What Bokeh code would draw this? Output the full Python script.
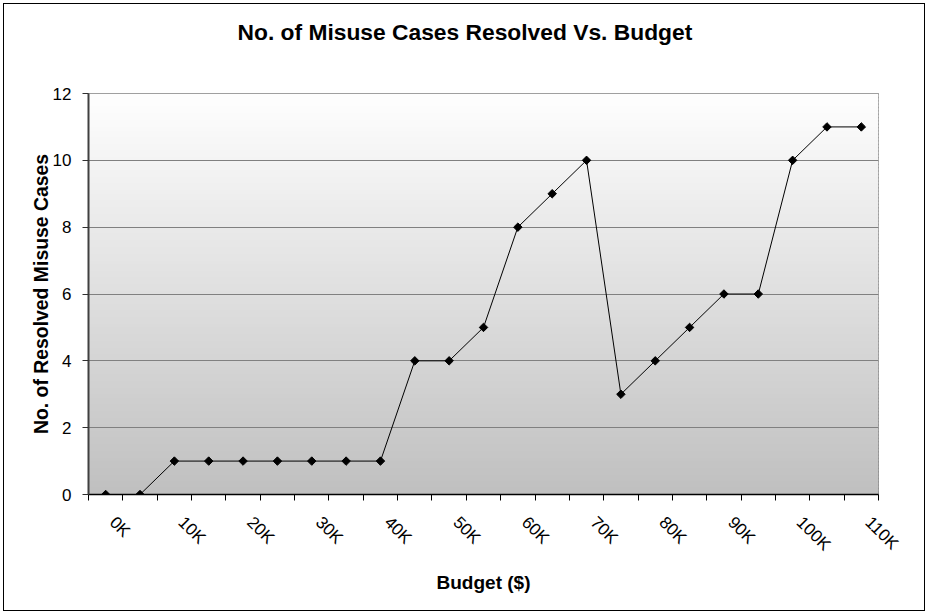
import numpy as np
from bokeh.plotting import figure
from bokeh.models import FixedTicker, Range1d, Title
from bokeh.embed import file_html
from bokeh.resources import INLINE

# ---- data ----
budget_k = [0, 5, 10, 15, 20, 25, 30, 35, 40, 45, 50, 55, 60, 65, 70, 75, 80, 85, 90, 95, 100, 105, 110]
resolved = [0, 0, 1, 1, 1, 1, 1, 1, 1, 4, 4, 5, 8, 9, 10, 3, 4, 5, 6, 6, 10, 11, 11]
x_tick_values = [0, 10, 20, 30, 40, 50, 60, 70, 80, 90, 100, 110]
x_tick_labels = ["0K", "10K", "20K", "30K", "40K", "50K", "60K", "70K", "80K", "90K", "100K", "110K"]
y_ticks = [0, 2, 4, 6, 8, 10, 12]

FONT = "Liberation Sans"
step = budget_k[1] - budget_k[0]
x0 = budget_k[0] - step / 2
x1 = budget_k[-1] + step / 2
y0, y1 = y_ticks[0], y_ticks[-1]

p = figure(frame_width=790, frame_height=401,
           x_range=Range1d(x0, x1), y_range=Range1d(y0, y1),
           output_backend="svg", toolbar_location=None,
           min_border_left=84, min_border_right=46,
           min_border_top=89, min_border_bottom=116,
           background_fill_color="white", border_fill_color="white")
p.styles = {"border": "1px solid black", "margin": "3px 0 0 3px"}
p.title.text = ""

# spacer panel between the frame and the title, then the title itself (outermost)
p.add_layout(Title(text=" ", text_font_size="1px", standoff=46), "above")
p.add_layout(Title(text="No. of Misuse Cases Resolved Vs. Budget", align="left",
                   offset=149, standoff=0, text_font=FONT, text_font_size="22.8px",
                   text_font_style="bold", text_color="black"), "above")

# gradient background (white -> silver), built from the y range
n = 120
edges = np.linspace(y0, y1, n + 1)
frac = (edges[:-1] + edges[1:]) / 2 / (y1 - y0)
shades = (192 + frac * 63).astype(int)
colors = ["#%02x%02x%02x" % (s, s, s) for s in shades]
pad = (y1 - y0) / n * 0.6
p.quad(left=x0, right=x1, bottom=edges[:-1], top=np.minimum(edges[1:] + pad, y1),
       fill_color=colors, line_color=None, level="image")

p.outline_line_color = "#808080"

# grid
p.xgrid.visible = False
p.ygrid.ticker = FixedTicker(ticks=y_ticks)
p.ygrid.grid_line_color = "#808080"
p.ygrid.grid_line_width = 1

# x axis: tick marks at category boundaries, labels just right of category centre
boundaries = [b - step / 2 for b in budget_k] + [budget_k[-1] + step / 2]
shift = step * 0.2
label_pos = [v + shift for v in x_tick_values]
xa = p.xaxis[0]
xa.ticker = FixedTicker(ticks=label_pos, minor_ticks=boundaries)
xa.major_label_overrides = {v: t for v, t in zip(label_pos, x_tick_labels)}
xa.major_tick_out = 0
xa.major_tick_in = 0
xa.minor_tick_out = 6
xa.minor_tick_in = 0
xa.minor_tick_line_color = "black"
xa.axis_line_color = "black"
xa.axis_line_width = 1.5
xa.major_label_orientation = -np.pi / 4
xa.major_label_standoff = 19
xa.major_label_text_font = FONT
xa.major_label_text_font_size = "17px"
xa.major_label_text_color = "black"
xa.axis_label = "Budget ($)"
xa.axis_label_text_font = FONT
xa.axis_label_text_font_size = "19px"
xa.axis_label_text_font_style = "bold"
xa.axis_label_text_color = "black"
xa.axis_label_standoff = 8

# y axis
ya = p.yaxis[0]
ya.ticker = FixedTicker(ticks=y_ticks, minor_ticks=[])
ya.major_tick_out = 6
ya.major_tick_in = 0
ya.major_tick_line_color = "#303030"
ya.minor_tick_line_color = None
ya.axis_line_color = "#404040"
ya.axis_line_width = 2
ya.major_label_standoff = 11
ya.major_label_text_font = FONT
ya.major_label_text_font_size = "17px"
ya.major_label_text_color = "black"
ya.axis_label = "No. of Resolved Misuse Cases"
ya.axis_label_text_font = FONT
ya.axis_label_text_font_size = "19.4px"
ya.axis_label_text_font_style = "bold"
ya.axis_label_text_color = "black"
ya.axis_label_standoff = -2

# data
p.line(budget_k, resolved, line_color="black", line_width=1)
p.scatter(budget_k, resolved, marker="square", angle=np.pi / 4, size=6,
          fill_color="black", line_color="black")

open("out.html", "w").write(file_html(p, INLINE))
